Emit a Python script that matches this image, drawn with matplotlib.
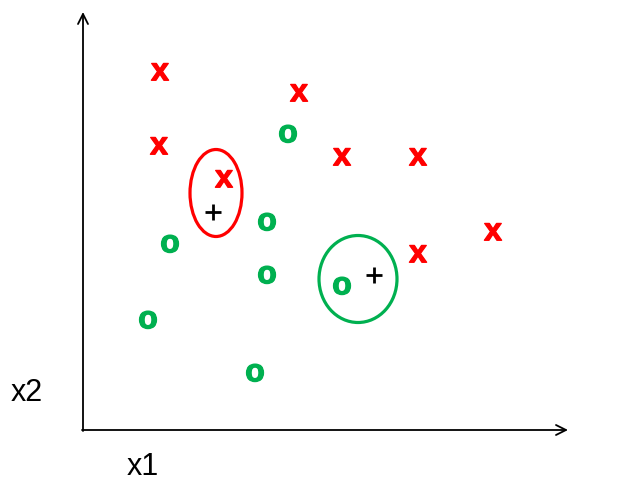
import matplotlib
matplotlib.use("Agg")
import matplotlib.pyplot as plt
from matplotlib.patches import Ellipse
import matplotlib.patheffects as pe

# positions in picture coordinates (y grows downward)
red_x = [160, 299, 159, 342, 418, 224, 493, 418]
red_y = [72, 93, 146, 157, 157, 179, 232, 254]
green_x = [288, 267, 170, 267, 342, 148, 255]
green_y = [134, 222, 244, 275, 286, 320, 373]
plus_x = [213, 374]
plus_y = [212, 275]
ellipses = [  # cx, cy, w, h, color
    (216, 193, 52, 87, "#ff0000"),
    (358, 279, 78, 87, "#00b050"),
]

fig = plt.figure(figsize=(6.41, 4.88), dpi=100)
ax = fig.add_axes([0, 0, 1, 1])
ax.set_xlim(0, 641)
ax.set_ylim(488, 0)
ax.axis("off")

# axes with arrows
ax.annotate("", xy=(83, 12), xytext=(83, 431),
            arrowprops=dict(arrowstyle="->", lw=1.3, color="black",
                            mutation_scale=18, shrinkA=0, shrinkB=0))
ax.annotate("", xy=(568, 430), xytext=(82, 430),
            arrowprops=dict(arrowstyle="->", lw=1.3, color="black",
                            mutation_scale=18, shrinkA=0, shrinkB=0))

font = "Liberation Sans"
fs = 23
half_xh = 0.519 * fs * 100 / 72 / 2  # half x-height in pixels
for x, y in zip(red_x, red_y):
    ax.text(x, y + half_xh, "x", color="#ff0000", fontsize=fs, fontweight="bold",
            family=font, ha="center", va="baseline",
            path_effects=[pe.withStroke(linewidth=0.9, foreground="#ff0000")])
for x, y in zip(green_x, green_y):
    ax.text(x, y + half_xh, "o", color="#00b050", fontsize=fs, fontweight="bold",
            family=font, ha="center", va="baseline",
            path_effects=[pe.withStroke(linewidth=0.9, foreground="#00b050")])
ax.plot(plus_x, plus_y, linestyle="none", marker="+", markersize=11.5,
        markeredgewidth=2.0, color="black")

for cx, cy, w, h, c in ellipses:
    ax.add_patch(Ellipse((cx, cy), w, h, fill=False, edgecolor=c, lw=2.3))

ax.text(27, 393, "x2", fontsize=22, family=font, ha="center", va="center")
ax.text(143, 467, "x1", fontsize=22, family=font, ha="center", va="center")

fig.savefig("out.png", dpi=100)
